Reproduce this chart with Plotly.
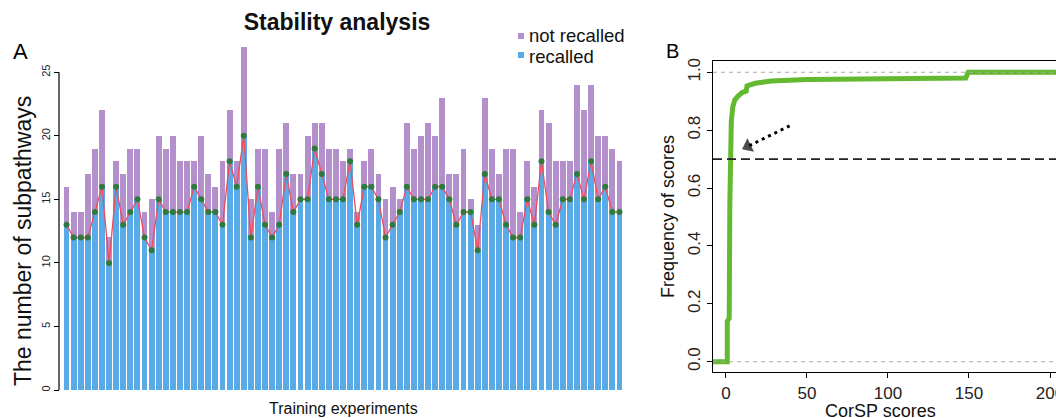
import plotly.graph_objects as go

W, H = 1056, 418

# ---------------- Panel A data ----------------
experiments = list(range(1, 80))
recalled = [13, 12, 12, 12, 14, 16, 10, 16, 13, 14, 15, 12, 11, 15, 14, 14, 14, 14, 16, 15,
            14, 14, 13, 18, 16, 20, 12, 16, 13, 12, 13, 17, 14, 15, 15, 19, 17, 15, 15, 15,
            18, 13, 16, 16, 15, 12, 13, 14, 16, 15, 15, 15, 16, 16, 15, 13, 14, 14, 11, 17,
            15, 15, 13, 12, 12, 15, 13, 18, 14, 13, 15, 15, 17, 15, 18, 15, 16, 14, 14]
total = [16, 14, 14, 17, 19, 22, 12, 18, 17, 19, 19, 14, 15, 20, 19, 20, 18, 18, 18, 20,
         17, 16, 18, 22, 18, 27, 15, 19, 19, 14, 19, 21, 17, 17, 20, 21, 21, 19, 19, 18,
         19, 14, 18, 19, 17, 15, 16, 15, 21, 19, 20, 21, 20, 23, 17, 17, 19, 15, 13, 23,
         19, 17, 19, 19, 14, 18, 16, 22, 21, 18, 18, 18, 24, 22, 24, 20, 20, 19, 18]
not_recalled = [t - r for t, r in zip(total, recalled)]
y_ticks_a = [0, 5, 10, 15, 20, 25]

# ---------------- Panel B data ----------------
corsp_scores = [-8, 0.8, 0.8, 2.0, 2.4, 2.8, 3.3, 4.2, 5.5, 7.5, 10, 12.5, 13, 18, 28, 50, 95,
                148, 149.5, 205]
score_freq = [0, 0, 0.14, 0.15, 0.55, 0.75, 0.83, 0.88, 0.905, 0.918, 0.93, 0.935, 0.953,
              0.962, 0.970, 0.975, 0.978, 0.980, 1.0, 1.0]
x_ticks_b = [0, 50, 100, 150, 200]
y_ticks_b = [0, 0.2, 0.4, 0.6, 0.8, 1.0]
threshold = 0.7
arrow_x = [39.3, 13.5]
arrow_y = [0.815, 0.744]

BLUE = "#59abe8"
PURPLE = "#b38fcb"
RED = "#ef4a5e"
DOTG = "#2f7a3c"
GREEN = "#63b92f"
FONT = "Liberation Sans, Arial, sans-serif"


def px(x):
    return x / W


def py(y):
    return 1 - y / H


fig = go.Figure()

fig.add_trace(go.Bar(x=experiments, y=recalled, marker=dict(color=BLUE, line=dict(width=0)),
                     name="recalled", showlegend=False, xaxis="x", yaxis="y"))
fig.add_trace(go.Bar(x=experiments, y=not_recalled, marker=dict(color=PURPLE, line=dict(width=0)),
                     name="not recalled", showlegend=False, xaxis="x", yaxis="y"))
fig.add_trace(go.Scatter(x=experiments, y=recalled, mode="lines+markers",
                         line=dict(color=RED, width=1.3),
                         marker=dict(color=DOTG, size=6), showlegend=False,
                         xaxis="x", yaxis="y"))

# Panel B curve
fig.add_trace(go.Scatter(x=corsp_scores, y=score_freq, mode="lines",
                         line=dict(color=GREEN, width=5), showlegend=False,
                         xaxis="x2", yaxis="y2"))
# dotted arrow
fig.add_trace(go.Scatter(x=arrow_x, y=arrow_y, mode="lines+markers",
                         line=dict(color="black", width=3, dash="3px,4px"),
                         marker=dict(symbol="triangle-up", size=[0, 13], color="black",
                                     angleref="previous", line=dict(width=0)),
                         showlegend=False, xaxis="x2", yaxis="y2"))

shapes = []
# Panel A y-axis line spanning 0..25
shapes.append(dict(type="line", xref="paper", yref="y", x0=px(59), x1=px(59), y0=0, y1=25,
                   line=dict(color="black", width=1.2)))
# Panel B reference lines
for yv, col, wd, ds in [(0, "#aaaaaa", 1, "4px,4px"), (1, "#aaaaaa", 1, "4px,4px"),
                        (threshold, "#222222", 1.8, "9px,5px")]:
    shapes.append(dict(type="line", xref="x2 domain", yref="y2", x0=0, x1=1, y0=yv, y1=yv,
                       line=dict(color=col, width=wd, dash=ds), layer="above"))
# manual legend squares
for yy, col in [(36, PURPLE), (55, BLUE)]:
    shapes.append(dict(type="rect", xref="paper", yref="paper",
                       x0=px(518), x1=px(524), y0=py(yy + 3), y1=py(yy - 3),
                       fillcolor=col, line=dict(width=0)))

annotations = [
    dict(text="A", x=px(20), y=py(52), xref="paper", yref="paper", showarrow=False,
         font=dict(size=22, color="black"), xanchor="center", yanchor="middle"),
    dict(text="B", x=px(672), y=py(51), xref="paper", yref="paper", showarrow=False,
         font=dict(size=20, color="black"), xanchor="center", yanchor="middle"),
    dict(text="The number of subpathways", x=px(23), y=py(241), xref="paper", yref="paper",
         showarrow=False, textangle=-90, font=dict(size=23, color="#111"),
         xanchor="center", yanchor="middle"),
    dict(text="Training experiments", x=px(343), y=py(408), xref="paper", yref="paper",
         showarrow=False, font=dict(size=16, color="#111"), xanchor="center", yanchor="middle"),
    dict(text="Frequency of scores", x=px(668), y=py(217), xref="paper", yref="paper",
         showarrow=False, textangle=-90, font=dict(size=18, color="#111"),
         xanchor="center", yanchor="middle"),
    dict(text="CorSP scores", x=px(880), y=py(411), xref="paper", yref="paper",
         showarrow=False, font=dict(size=18, color="#111"), xanchor="center", yanchor="middle"),
    dict(text="not recalled", x=px(528), y=py(35), xref="paper", yref="paper",
         showarrow=False, font=dict(size=18.5, color="#111"), xanchor="left", yanchor="middle",
         borderpad=0),
    dict(text="recalled", x=px(528), y=py(56), xref="paper", yref="paper",
         showarrow=False, font=dict(size=18.5, color="#111"), xanchor="left", yanchor="middle",
         borderpad=0),
]

fig.update_layout(
    width=W, height=H,
    margin=dict(l=0, r=0, t=0, b=0),
    paper_bgcolor="white", plot_bgcolor="white",
    font=dict(family=FONT, color="#111"),
    barmode="stack", bargap=0.17,
    showlegend=False,
    title=dict(text="<b>Stability analysis</b>", x=px(337), y=py(22), xanchor="center",
               yanchor="middle", xref="paper", yref="paper",
               font=dict(size=23, color="#111", family=FONT)),
    xaxis=dict(domain=[px(63), px(623)], range=[0.5, 79.5], showticklabels=False,
               ticks="", showline=False, showgrid=False, zeroline=False, automargin=False),
    yaxis=dict(domain=[py(390), py(40)], range=[0, 27.54], anchor="free", position=px(59),
               tickvals=y_ticks_a, ticks="outside", ticklen=5, tickcolor="black",
               tickwidth=1.2, tickangle=-90, tickfont=dict(size=11, color="#222"),
               showline=False, showgrid=False, zeroline=False, automargin=False),
    xaxis2=dict(domain=[px(713), 1.0], range=[-8.0, 203.7], anchor="y2",
                tickvals=x_ticks_b, ticktext=[str(v) for v in x_ticks_b],
                ticks="outside", ticklen=5, tickcolor="black", tickwidth=1.2,
                tickfont=dict(size=17, color="#222"), showline=True, mirror=True,
                linecolor="black", linewidth=1.3, showgrid=False, zeroline=False,
                automargin=False, ticklabeloverflow="allow"),
    yaxis2=dict(domain=[py(372), py(60.7)], range=[-0.0356, 1.040], anchor="x2",
                tickvals=y_ticks_b, ticktext=[f"{v:.1f}" for v in y_ticks_b],
                ticks="outside", ticklen=5, tickcolor="black", tickwidth=1.2,
                tickangle=-90, tickfont=dict(size=17, color="#222"), showline=True,
                mirror=False, linecolor="black", linewidth=1.3, showgrid=False,
                zeroline=False, automargin=False),
    shapes=shapes,
    annotations=annotations,
)

fig.write_html("out.html", config={"displayModeBar": False},
               post_script="document.body.style.margin='0';document.body.style.overflow='hidden';")
